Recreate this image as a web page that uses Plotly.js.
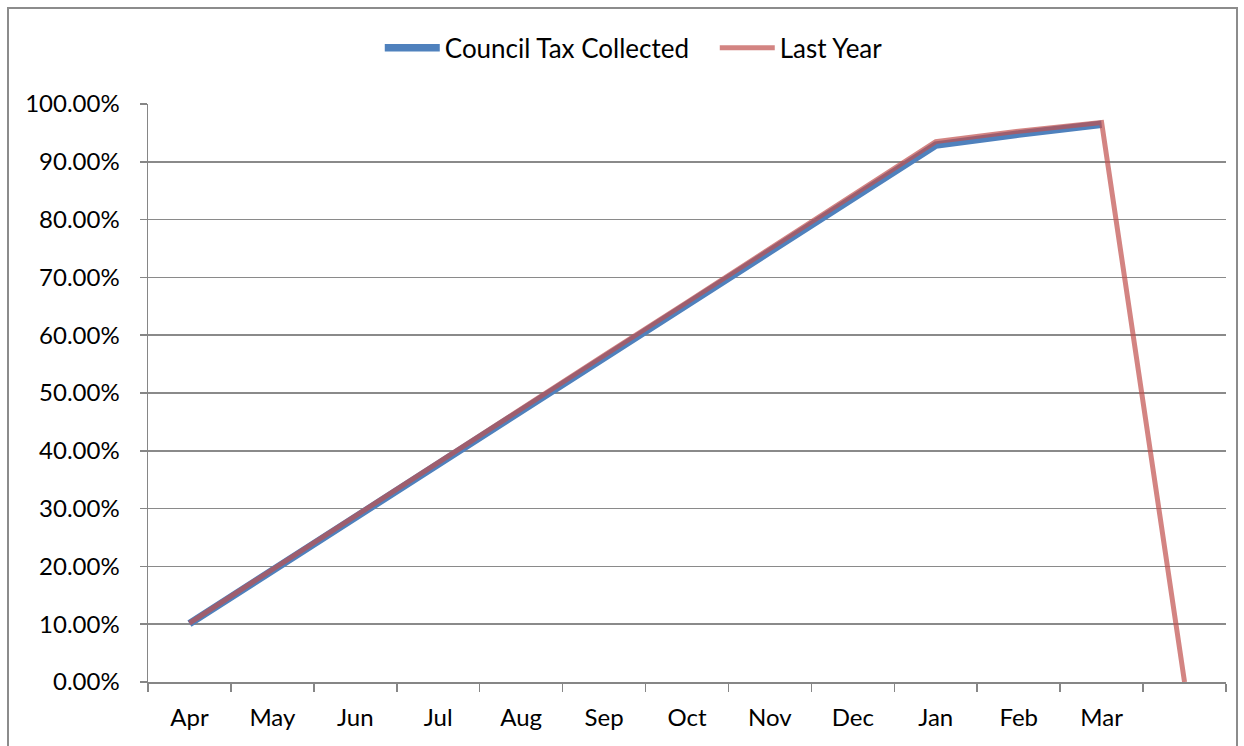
<!DOCTYPE html>
<html>
<head>
<meta charset="utf-8">
<script src="https://cdn.plot.ly/plotly-3.0.1.min.js"></script>
<style>
  html, body { margin:0; padding:0; background:#fff; }
  #wrap { position:relative; width:1244px; height:746px; overflow:hidden; }
  #chart { position:absolute; left:0; top:0; width:1244px; height:746px; }
  #frame { position:absolute; left:7px; top:7px; width:1231px; height:760px; border:2px solid #8c8c8c; pointer-events:none; box-sizing:border-box; }
</style>
</head>
<body>
<div id="wrap">
  <div id="chart"></div>
  <div id="frame"></div>
</div>
<script>
const months = ["Apr","May","Jun","Jul","Aug","Sep","Oct","Nov","Dec","Jan","Feb","Mar"," "];
const councilTaxCollected = [0.101, 0.193, 0.285, 0.377, 0.468, 0.560, 0.652, 0.744, 0.836, 0.929, 0.948, 0.965];
const lastYear = [0.102, 0.195, 0.288, 0.380, 0.472, 0.565, 0.657, 0.750, 0.842, 0.935, 0.953, 0.968, 0.0];

const FONT = "Lato, 'Open Sans', sans-serif";
const FS = 24;

const traces = [
  {
    x: months.slice(0, councilTaxCollected.length),
    y: councilTaxCollected,
    type: "scatter",
    mode: "lines",
    name: "Council Tax Collected",
    line: { color: "#4F81BD", width: 7.5 },
    hoverinfo: "skip"
  },
  {
    x: months.slice(0, lastYear.length),
    y: lastYear,
    type: "scatter",
    mode: "lines",
    name: "Last Year",
    line: { color: "rgba(192,80,77,0.7)", width: 5 },
    hoverinfo: "skip"
  }
];

const layout = {
  width: 1244,
  height: 746,
  margin: { l: 148, r: 18, t: 104, b: 64 },
  paper_bgcolor: "rgba(0,0,0,0)",
  plot_bgcolor: "#ffffff",
  font: { family: FONT, size: FS, color: "#000" },
  showlegend: true,
  legend: {
    orientation: "h",
    x: 0.215, xanchor: "left",
    y: 1.097, yanchor: "middle",
    font: { family: FONT, size: 26, color: "#000" },
    itemwidth: 55,
    entrywidth: 265,
    entrywidthmode: "pixels",
    tracegroupgap: 0
  },
  xaxis: {
    type: "category",
    categoryorder: "array",
    categoryarray: months,
    range: [-0.5, 12.5],
    tickson: "boundaries",
    ticks: "outside",
    ticklen: 8,
    tickwidth: 1.5,
    tickcolor: "#868686",
    showline: true,
    linecolor: "#868686",
    linewidth: 1.5,
    showgrid: false,
    zeroline: false,
    fixedrange: true,
    ticklabelstandoff: 14,
    tickfont: { family: FONT, size: FS, color: "#000" }
  },
  yaxis: {
    range: [0, 1],
    dtick: 0.1,
    tick0: 0,
    tickformat: ".2%",
    ticks: "outside",
    ticklen: 7,
    tickwidth: 1.5,
    tickcolor: "#868686",
    showline: true,
    linecolor: "#868686",
    linewidth: 1.5,
    showgrid: true,
    gridcolor: "#8a8a8a",
    gridwidth: 1.5,
    zeroline: false,
    fixedrange: true,
    ticklabelstandoff: 15,
    tickfont: { family: FONT, size: FS, color: "#000" }
  }
};

Plotly.newPlot("chart", traces, layout, { displayModeBar: false, staticPlot: true });
</script>
</body>
</html>
